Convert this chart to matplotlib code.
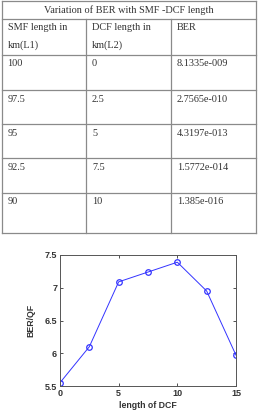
import matplotlib
matplotlib.use("Agg")
import matplotlib.pyplot as plt

# ---- data ----
table_title = "Variation of BER with SMF -DCF length"
header = [["SMF length in", "km(L1)"], ["DCF length in", "km(L2)"], ["BER", ""]]
smf_len = ["100", "97.5", "95", "92.5", "90"]
dcf_len = ["0", "2.5", "5", "7.5", "10"]
ber_vals = ["8.1335e-009", "2.7565e-010", "4.3197e-013", "1.5772e-014", "1.385e-016"]

dcf_x = [0, 2.5, 5, 7.5, 10, 12.5, 15]
ber_qf = [5.55, 6.10, 7.09, 7.24, 7.39, 6.95, 5.97]
x_ticks = [0, 5, 10, 15]
y_ticks = [5.5, 6, 6.5, 7, 7.5]

W, H = 258, 413
fig = plt.figure(figsize=(W / 100, H / 100), dpi=100)

# ---- table (pixel coordinate overlay) ----
tab = fig.add_axes([0, 0, 1, 1])
tab.set_xlim(0, W)
tab.set_ylim(H, 0)
tab.axis("off")
lc = "#8a8a8a"
lw = 0.9
left, right = 1.5, 255.5
top, title_b, head_b = 0.5, 19, 55
row_b = [90, 124, 158, 193, 233]
col_x = [86, 171]
for y in [top, title_b, head_b] + row_b:
    tab.plot([left, right], [y, y], color=lc, lw=lw)
tab.plot([left, left], [top, row_b[-1]], color=lc, lw=lw)
tab.plot([right, right], [top, row_b[-1]], color=lc, lw=lw)
for x in col_x:
    tab.plot([x, x], [title_b, row_b[-1]], color=lc, lw=lw)

serif = ["Liberation Serif", "DejaVu Serif"]
fs = 7.4
tc = "#333333"
tab.text((left + right) / 2, 10, table_title, ha="center", va="center",
         fontsize=fs, family=serif, color=tc)
col_left = [left, col_x[0], col_x[1]]
for ci, (l1, l2) in enumerate(header):
    tab.text(col_left[ci] + 6, 28, l1, ha="left", va="center", fontsize=fs, family=serif, color=tc)
    if l2:
        tab.text(col_left[ci] + 6, 45, l2, ha="left", va="center", fontsize=fs, family=serif, color=tc)
row_tops = [head_b] + row_b[:-1]
for ri in range(len(smf_len)):
    y = row_tops[ri] + 9
    for ci, val in enumerate([smf_len[ri], dcf_len[ri], ber_vals[ri]]):
        tab.text(col_left[ci] + 6, y, val, ha="left", va="center", fontsize=fs, family=serif, color=tc)

# ---- line plot ----
ax_l, ax_r, ax_t, ax_b = 60, 236, 255, 386
ax = fig.add_axes([ax_l / W, 1 - ax_b / H, (ax_r - ax_l) / W, (ax_b - ax_t) / H])
ax.plot(dcf_x, ber_qf, color="#3333ff", lw=0.7, marker="o", ms=4,
        mfc="none", mec="#3333ff", mew=0.9)
ax.set_xlim(0, 15)
ax.set_ylim(5.5, 7.5)
ax.set_xticks(x_ticks)
ax.set_yticks(y_ticks)
ax.set_yticklabels(["5.5", "6", "6.5", "7", "7.5"])
sans = ["Liberation Sans", "DejaVu Sans"]
ax.tick_params(direction="in", length=2.5, width=0.6, labelsize=6.5, pad=2,
               top=True, right=True, colors="#333333")
for lab in ax.get_xticklabels() + ax.get_yticklabels():
    lab.set_family(sans)
    lab.set_fontweight("bold")
for s in ax.spines.values():
    s.set_linewidth(0.7)
    s.set_color("#555555")
ax.set_xlabel("length of DCF", fontsize=6.3, family=sans, fontweight="bold",
              color="#333333", labelpad=2)
ax.set_ylabel("BER/QF", fontsize=6.3, family=sans, fontweight="bold",
              color="#333333", labelpad=7)

fig.savefig("out.png", dpi=100)
